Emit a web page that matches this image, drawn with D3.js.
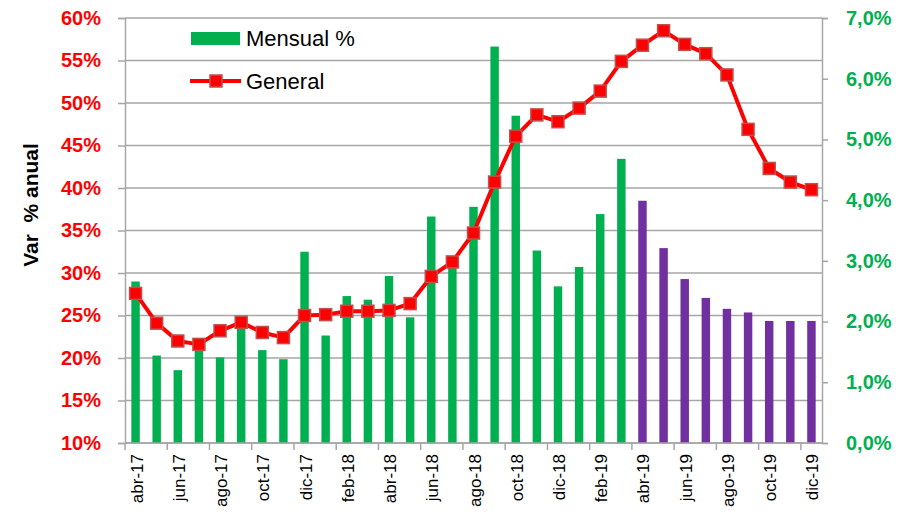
<!DOCTYPE html>
<html>
<head>
<meta charset="utf-8">
<script src="https://cdn.jsdelivr.net/npm/d3@7"></script>
<style>
  body { margin: 0; background: #fff; }
  text { font-family: "Liberation Sans", Arial, sans-serif; }
</style>
</head>
<body>
<div id="chart"></div>
<script>
// months, monthly % (right axis) and annual general % (left axis)
var months = ['abr-17','may-17','jun-17','jul-17','ago-17','sep-17','oct-17','nov-17','dic-17',
  'ene-18','feb-18','mar-18','abr-18','may-18','jun-18','jul-18','ago-18','sep-18','oct-18','nov-18','dic-18',
  'ene-19','feb-19','mar-19','abr-19','may-19','jun-19','jul-19','ago-19','sep-19','oct-19','nov-19','dic-19'];
var mensual = [2.66, 1.44, 1.20, 1.60, 1.41, 2.00, 1.53, 1.38, 3.15,
  1.77, 2.42, 2.36, 2.75, 2.07, 3.73, 3.00, 3.89, 6.53, 5.39, 3.17, 2.58,
  2.90, 3.77, 4.68, 3.99, 3.21, 2.70, 2.39, 2.21, 2.15, 2.01, 2.01, 2.01];
var general = [27.6, 24.1, 22.0, 21.6, 23.2, 24.2, 23.0, 22.4, 25.0,
  25.1, 25.5, 25.5, 25.6, 26.4, 29.6, 31.3, 34.7, 40.7, 46.1, 48.6, 47.8,
  49.4, 51.4, 54.9, 56.8, 58.5, 56.9, 55.8, 53.3, 46.9, 42.3, 40.7, 39.8];
var firstForecast = 'abr-19';
var leftTicks = [10, 15, 20, 25, 30, 35, 40, 45, 50, 55, 60];
var rightTicks = [0, 1, 2, 3, 4, 5, 6, 7];

var width = 914, height = 520;
var margin = {top: 18, right: 92, bottom: 77, left: 125};

var svg = d3.select('#chart').append('svg')
    .attr('width', width)
    .attr('height', height);

var x = d3.scaleBand()
    .domain(months)
    .range([margin.left, width - margin.right])
    .paddingInner(0.6)
    .paddingOuter(0.3);

var yL = d3.scaleLinear().domain([10, 60]).range([height - margin.bottom, margin.top]);
var yR = d3.scaleLinear().domain([0, 7]).range([height - margin.bottom, margin.top]);

var grey = '#a6a6a6';
var fmtR = function(d) { return d.toFixed(1).replace('.', ',') + '%'; };

// gridlines
svg.append('g')
    .selectAll('line')
    .data(leftTicks)
    .enter()
    .append('line')
    .attr('x1', margin.left)
    .attr('x2', width - margin.right)
    .attr('y1', function(d) { return yL(d); })
    .attr('y2', function(d) { return yL(d); })
    .attr('stroke', grey)
    .attr('stroke-width', 1.5);

// bars
var step = x.step();
svg.append('g')
    .selectAll('rect')
    .data(months)
    .enter()
    .append('rect')
    .attr('x', function(d) { return x(d); })
    .attr('width', x.bandwidth())
    .attr('y', function(d, i) { return yR(mensual[i]); })
    .attr('height', function(d, i) { return yR(0) - yR(mensual[i]); })
    .attr('fill', function(d, i) {
        return i >= months.indexOf(firstForecast) ? '#7030a0' : '#00b050';
    });

// left axis
var axL = svg.append('g')
    .attr('transform', 'translate(' + margin.left + ',0)')
    .call(d3.axisLeft(yL).tickValues(leftTicks).tickSize(7).tickPadding(17)
        .tickFormat(function(d) { return d + '%'; }));
axL.select('.domain').attr('stroke', grey).attr('stroke-width', 1.5);
axL.selectAll('.tick line').attr('stroke', grey).attr('stroke-width', 1.5);
axL.selectAll('.tick text')
    .attr('fill', '#ff0000')
    .style('font-size', '20px')
    .style('font-weight', 'bold');

// right axis
var axR = svg.append('g')
    .attr('transform', 'translate(' + (width - margin.right) + ',0)')
    .call(d3.axisRight(yR).tickValues(rightTicks).tickSize(6).tickPadding(18).tickFormat(fmtR));
axR.select('.domain').attr('stroke', grey).attr('stroke-width', 1.5);
axR.selectAll('.tick line').attr('stroke', grey).attr('stroke-width', 1.5);
axR.selectAll('.tick text')
    .attr('fill', '#00b050')
    .style('font-size', '20px')
    .style('font-weight', 'bold');

// bottom axis: ticks every two months, label on each other month
var base = height - margin.bottom;
var boundaries = d3.range(0, months.length, 2);
svg.append('line')
    .attr('x1', margin.left).attr('x2', width - margin.right)
    .attr('y1', base).attr('y2', base)
    .attr('stroke', grey).attr('stroke-width', 1.5);
svg.append('g')
    .selectAll('line')
    .data(boundaries)
    .enter()
    .append('line')
    .attr('x1', function(i) { return margin.left + i * step; })
    .attr('x2', function(i) { return margin.left + i * step; })
    .attr('y1', base)
    .attr('y2', base + 7)
    .attr('stroke', grey)
    .attr('stroke-width', 1.5);
svg.append('g')
    .selectAll('text')
    .data(boundaries)
    .enter()
    .append('text')
    .attr('transform', function(i) {
        var cx = x(months[i]) + x.bandwidth() / 2;
        return 'translate(' + (cx + 7) + ',' + (base + 11) + ') rotate(-90)';
    })
    .attr('text-anchor', 'end')
    .style('font-size', '17px')
    .attr('fill', '#000')
    .text(function(i) { return months[i]; });

// general line
var line = d3.line()
    .x(function(d, i) { return x(months[i]) + x.bandwidth() / 2; })
    .y(function(d) { return yL(d); });
svg.append('path')
    .attr('d', line(general))
    .attr('fill', 'none')
    .attr('stroke', '#ff0000')
    .attr('stroke-width', 4)
    .attr('stroke-linejoin', 'round');

svg.append('g')
    .selectAll('rect')
    .data(general)
    .enter()
    .append('rect')
    .attr('x', function(d, i) { return x(months[i]) + x.bandwidth() / 2 - 6; })
    .attr('y', function(d) { return yL(d) - 6; })
    .attr('width', 12)
    .attr('height', 12)
    .attr('fill', '#ff0000')
    .attr('stroke', '#c0504d')
    .attr('stroke-width', 1.5);

// y title
svg.append('text')
    .attr('transform', 'translate(38,205) rotate(-90)')
    .attr('text-anchor', 'middle')
    .style('font-size', '21px')
    .style('font-weight', 'bold')
    .style('white-space', 'pre')
    .text('Var  % anual');

// legend
var leg = svg.append('g');
leg.append('rect')
    .attr('x', 191).attr('y', 32).attr('width', 49).attr('height', 13)
    .attr('fill', '#00b050');
leg.append('text')
    .attr('x', 246).attr('y', 46)
    .style('font-size', '22px')
    .text('Mensual %');
leg.append('line')
    .attr('x1', 190).attr('x2', 241).attr('y1', 81).attr('y2', 81)
    .attr('stroke', '#ff0000').attr('stroke-width', 4);
leg.append('rect')
    .attr('x', 210).attr('y', 75).attr('width', 12).attr('height', 12)
    .attr('fill', '#ff0000').attr('stroke', '#c0504d').attr('stroke-width', 1.5);
leg.append('text')
    .attr('x', 246).attr('y', 89)
    .style('font-size', '22px')
    .text('General');
</script>
</body>
</html>
